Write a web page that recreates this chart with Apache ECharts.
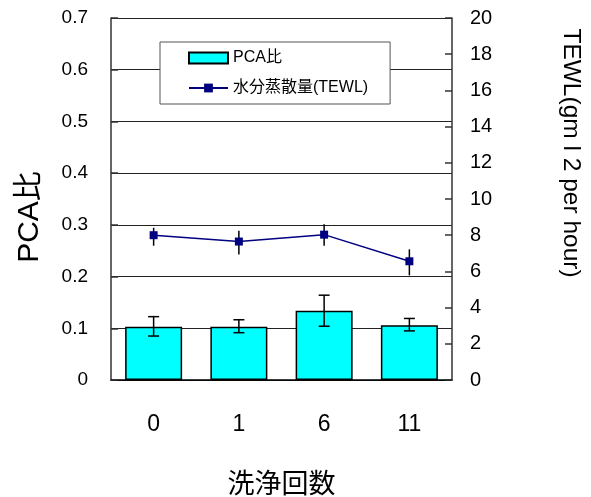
<!DOCTYPE html>
<html>
<head>
<meta charset="utf-8">
<script src="https://cdn.jsdelivr.net/npm/echarts@6/dist/echarts.min.js"></script>
<style>
html,body{margin:0;padding:0;background:#fff;}
#chart{width:591px;height:497px;}
</style>
</head>
<body>
<div id="chart"></div>
<script>
const categories = ['0', '1', '6', '11'];
const pcaRatio = [0.103, 0.103, 0.134, 0.106];
const pcaLow = [0.085, 0.0915, 0.104, 0.095];
const pcaHigh = [0.1225, 0.1165, 0.164, 0.119];
const tewl = [8.0, 7.65, 8.03, 6.56];
const tewlLow = [7.42, 6.94, 7.42, 5.78];
const tewlHigh = [8.41, 8.25, 8.6, 7.22];
const leftTicks = { min: 0, max: 0.7, interval: 0.1 };
const rightTicks = { min: 0, max: 20, interval: 2 };

const FONT = "'Liberation Sans', Arial, 'Noto Sans CJK JP', sans-serif";

function errRender(capW) {
  return function (params, api) {
    const i = api.value(0);
    const lo = api.coord([i, api.value(1)]);
    const hi = api.coord([i, api.value(2)]);
    const st = { stroke: '#000', lineWidth: 1.5 };
    const children = [{ type: 'line', shape: { x1: lo[0], y1: lo[1], x2: hi[0], y2: hi[1] }, style: st }];
    if (capW) {
      children.push({ type: 'line', shape: { x1: hi[0] - capW / 2, y1: hi[1], x2: hi[0] + capW / 2, y2: hi[1] }, style: st });
      children.push({ type: 'line', shape: { x1: lo[0] - capW / 2, y1: lo[1], x2: lo[0] + capW / 2, y2: lo[1] }, style: st });
    }
    return { type: 'group', children: children };
  };
}

const chart = echarts.init(document.getElementById('chart'), null, { renderer: 'canvas' });
chart.setOption({
  animation: false,
  backgroundColor: '#fff',
  textStyle: { fontFamily: FONT },
  grid: { left: 111, right: 139, top: 18, bottom: 117, containLabel: false, outerBoundsMode: 'none' },
  legend: {
    orient: 'vertical',
    left: 160,
    top: 42,
    padding: [8, 22, 8, 28],
    itemWidth: 39,
    itemHeight: 11,
    itemGap: 14,
    backgroundColor: '#fff',
    borderColor: '#555',
    borderWidth: 1,
    textStyle: { fontSize: 16, color: '#000', fontFamily: FONT },
    data: [{ name: 'PCA比', icon: 'rect' }, { name: '水分蒸散量(TEWL)' }]
  },
  xAxis: {
    type: 'category',
    data: categories,
    boundaryGap: true,
    name: '洗浄回数',
    nameLocation: 'middle',
    nameGap: 92,
    nameTextStyle: { fontSize: 27, color: '#000', fontFamily: FONT },
    axisLine: { lineStyle: { color: '#000', width: 1.5 } },
    axisTick: { inside: true, length: 7, lineStyle: { color: '#222', width: 1.5 } },
    axisLabel: { fontSize: 23, color: '#000', margin: 33 },
    splitLine: { show: false }
  },
  yAxis: [
    {
      type: 'value',
      min: leftTicks.min, max: leftTicks.max, interval: leftTicks.interval,
      position: 'left',
      axisLine: { show: true, lineStyle: { color: '#333', width: 1.5 } },
      axisTick: { show: true, inside: true, length: 7, lineStyle: { color: '#333', width: 1.5 } },
      axisLabel: { fontSize: 19, color: '#000', margin: 23 },
      splitLine: { show: true, lineStyle: { color: '#222', width: 1 } }
    },
    {
      type: 'value',
      min: rightTicks.min, max: rightTicks.max, interval: rightTicks.interval,
      position: 'right',
      axisLine: { show: true, lineStyle: { color: '#333', width: 1.5 } },
      axisTick: { show: true, inside: true, length: 7, lineStyle: { color: '#333', width: 1.5 } },
      axisLabel: { fontSize: 20, color: '#000', margin: 18 },
      splitLine: { show: false }
    }
  ],
  series: [
    {
      name: 'PCA比',
      type: 'bar',
      yAxisIndex: 0,
      barWidth: 57,
      data: pcaRatio,
      itemStyle: { color: '#00FFFF', borderColor: '#000', borderWidth: 1.5 },
      z: 2
    },
    {
      name: 'PCA比 err',
      type: 'custom',
      yAxisIndex: 0,
      data: categories.map((c, i) => [i, pcaLow[i], pcaHigh[i]]),
      encode: { x: 0, y: [1, 2] },
      renderItem: errRender(11),
      z: 3
    },
    {
      name: 'TEWL err',
      type: 'custom',
      yAxisIndex: 1,
      data: categories.map((c, i) => [i, tewlLow[i], tewlHigh[i]]),
      encode: { x: 0, y: [1, 2] },
      renderItem: errRender(0),
      z: 3
    },
    {
      name: '水分蒸散量(TEWL)',
      type: 'line',
      yAxisIndex: 1,
      data: tewl,
      symbol: 'rect',
      symbolSize: 8,
      lineStyle: { color: '#000080', width: 1.5 },
      itemStyle: { color: '#000080' },
      z: 4
    }
  ],
  graphic: [
    {
      type: 'text', x: 30, y: 217, rotation: Math.PI / 2,
      style: { text: 'PCA比', fontSize: 30, fontFamily: FONT, fill: '#000', align: 'center', verticalAlign: 'middle' }
    },
    {
      type: 'text', x: 571, y: 153, rotation: -Math.PI / 2,
      style: { text: 'TEWL(gm l 2 per hour)', fontSize: 24.5, fontFamily: FONT, fill: '#000', align: 'center', verticalAlign: 'middle' }
    }
  ]
});
</script>
</body>
</html>
